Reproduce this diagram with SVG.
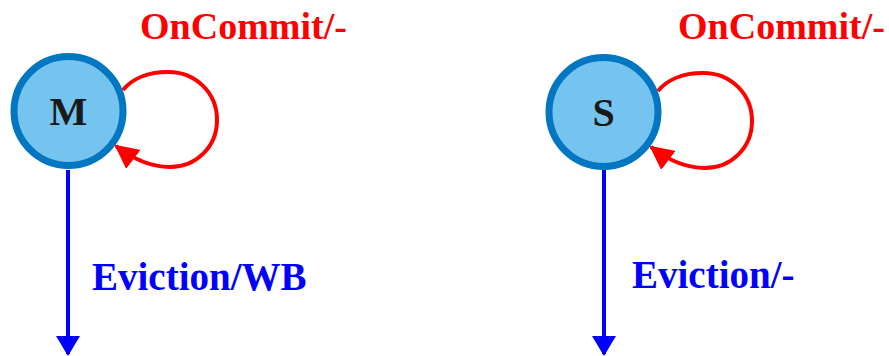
<svg xmlns="http://www.w3.org/2000/svg" width="889" height="356" viewBox="0 0 889 356">
  <style>
    .state { fill: #75c3ef; stroke: #0077c0; stroke-width: 7; }
    .state-label { font-family: "Liberation Serif", "Times New Roman", serif; font-weight: bold; font-size: 40px; fill: #1a1a1a; text-anchor: middle; }
    .loop { fill: none; stroke: #ff0000; stroke-width: 4; }
    .evict { fill: none; stroke: #0000ff; stroke-width: 4; }
    .loop-label { font-family: "Liberation Serif", "Times New Roman", serif; font-weight: bold; font-size: 38px; fill: #ff0000; }
    .evict-label { font-family: "Liberation Serif", "Times New Roman", serif; font-weight: bold; font-size: 39px; fill: #0000ff; }
  </style>
  <defs>
    <marker id="red-head" viewBox="0 0 24 24" refX="22" refY="12" markerWidth="24" markerHeight="24" markerUnits="userSpaceOnUse" orient="auto">
      <path d="M0,0 L24,12 L0,24 Z" fill="#ff0000"/>
    </marker>
    <marker id="blue-head" viewBox="0 0 20 24" refX="18" refY="12" markerWidth="20" markerHeight="24" markerUnits="userSpaceOnUse" orient="auto">
      <path d="M0,0 L20,12 L0,24 Z" fill="#0000ff"/>
    </marker>
    <!-- self-loop shape, drawn relative to the state's right side -->
    <path id="self-loop" d="M123,90 C131,80 146,72 168,72 C196,72 217,93 217,120 C217,147 196,167 170,167 C150,167 133,159 116,146"/>
  </defs>

  <!-- transitions -->
  <g id="connectors">
    <use href="#self-loop" class="loop" marker-end="url(#red-head)"/>
    <path class="evict" d="M68,170 L68,354" marker-end="url(#blue-head)"/>
    <use href="#self-loop" class="loop" transform="translate(535,1)" marker-end="url(#red-head)"/>
    <path class="evict" d="M604,170 L604,354" marker-end="url(#blue-head)"/>
  </g>

  <g id="state-M">
    <circle class="state" cx="68.5" cy="111" r="54.5"/>
    <text class="state-label" x="68.5" y="125">M</text>
  </g>
  <g id="state-S">
    <circle class="state" cx="603.5" cy="112" r="54.5"/>
    <text class="state-label" x="603.5" y="126">S</text>
  </g>

  <g id="labels">
    <text class="loop-label" x="140" y="39">OnCommit/-</text>
    <text class="loop-label" x="678" y="39">OnCommit/-</text>
    <text class="evict-label" x="92" y="290">Eviction/WB</text>
    <text class="evict-label" x="632" y="288">Eviction/-</text>
  </g>
</svg>
